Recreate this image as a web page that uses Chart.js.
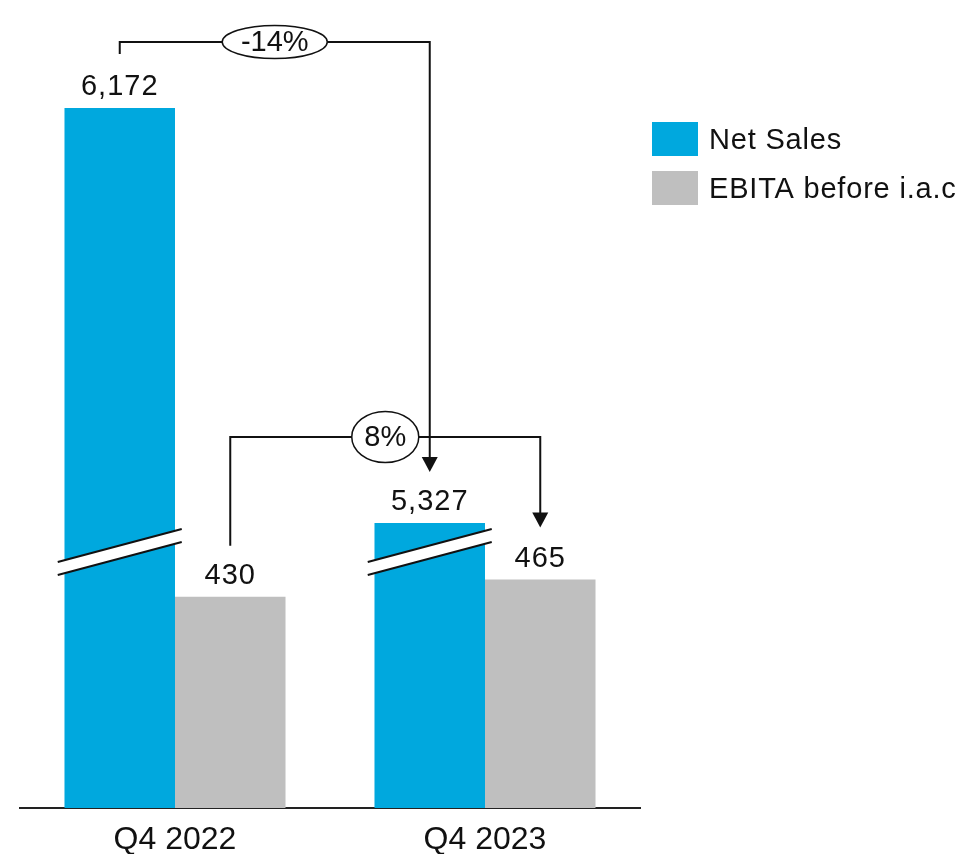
<!DOCTYPE html>
<html>
<head>
<meta charset="utf-8">
<script src="https://cdn.jsdelivr.net/npm/chart.js@4/dist/chart.umd.min.js"></script>
<style>
  html, body { margin: 0; padding: 0; background: #fff; }
</style>
</head>
<body>
<canvas id="chart" width="968" height="854"></canvas>
<script>
// quarterly figures
const quarters = ['Q4 2022', 'Q4 2023'];
const netSales = [6172, 5327];
const ebita = [430, 465];
const seriesNames = ['Net Sales', 'EBITA before i.a.c'];
const seriesColors = ['#00a8de', '#bfbfbf'];

const FONT = '"Liberation Sans", Arial, sans-serif';
const INK = '#111';

// both value axes share the same span so the bars use one px-per-unit;
// the sales axis starts high, hence the break marks on those bars
const SPAN = 1600;
const SALES_FLOOR = 4747;

const fmt = v => v.toLocaleString('en-US');
const pctChange = (a, b) => Math.round((b - a) / a * 100) + '%';

function arrowDown(ctx, x, tipY) {
  ctx.beginPath();
  ctx.moveTo(x - 8, tipY - 15);
  ctx.lineTo(x + 8, tipY - 15);
  ctx.lineTo(x, tipY);
  ctx.closePath();
  ctx.fill();
}

function bubble(ctx, x, y, rx, ry, text) {
  ctx.beginPath();
  ctx.ellipse(x, y, rx, ry, 0, 0, Math.PI * 2);
  ctx.fillStyle = '#fff';
  ctx.fill();
  ctx.lineWidth = 1.5;
  ctx.strokeStyle = INK;
  ctx.stroke();
  ctx.fillStyle = INK;
  ctx.font = '29px ' + FONT;
  ctx.textAlign = 'center';
  ctx.textBaseline = 'middle';
  ctx.fillText(text, x, y + 1);
}

// bracket from one bar label to another, with the change in a bubble
function bracket(ctx, x1, y1, x2, tipY, lineY, bub, text) {
  ctx.strokeStyle = INK;
  ctx.fillStyle = INK;
  ctx.lineWidth = 2;
  ctx.beginPath();
  ctx.moveTo(x1, y1);
  ctx.lineTo(x1, lineY);
  ctx.lineTo(x2, lineY);
  ctx.lineTo(x2, tipY - 12);
  ctx.stroke();
  arrowDown(ctx, x2, tipY);
  bubble(ctx, (x1 + x2) / 2, lineY, bub[0], bub[1], text);
}

const decorations = {
  id: 'decorations',
  afterDatasetsDraw(chart) {
    const ctx = chart.ctx;
    const sales = chart.getDatasetMeta(0).data;
    const ebit = chart.getDatasetMeta(1).data;

    // axis break marks over the sales bars
    ctx.save();
    sales.forEach(bar => {
      const x = bar.x;
      ctx.beginPath();
      ctx.moveTo(x - 62, 562);
      ctx.lineTo(x + 62, 529);
      ctx.lineTo(x + 62, 542);
      ctx.lineTo(x - 62, 575);
      ctx.closePath();
      ctx.fillStyle = '#fff';
      ctx.fill();
      ctx.strokeStyle = INK;
      ctx.lineWidth = 2;
      ctx.beginPath();
      ctx.moveTo(x - 62, 562);
      ctx.lineTo(x + 62, 529);
      ctx.moveTo(x - 62, 575);
      ctx.lineTo(x + 62, 542);
      ctx.stroke();
    });

    // value labels
    ctx.font = '29px ' + FONT;
    ctx.letterSpacing = '1px';
    ctx.fillStyle = INK;
    ctx.textAlign = 'center';
    ctx.textBaseline = 'alphabetic';
    const base = [];
    chart.data.datasets.forEach((ds, d) => {
      base[d] = [];
      chart.getDatasetMeta(d).data.forEach((bar, i) => {
        const y = bar.y - 13;
        base[d][i] = y;
        ctx.fillText(fmt(ds.data[i]), bar.x, y);
      });
    });
    ctx.letterSpacing = '0px';

    bracket(ctx, sales[0].x, base[0][0] - 41, sales[1].x, base[0][1] - 38, 42,
      [52.5, 16.5], pctChange(netSales[0], netSales[1]));
    bracket(ctx, ebit[0].x, base[1][0] - 38, ebit[1].x, base[1][1] - 39, 437,
      [33.5, 25.5], pctChange(ebita[0], ebita[1]));

    // category labels under the baseline
    const xScale = chart.scales.x;
    ctx.font = '32px ' + FONT;
    ctx.textBaseline = 'middle';
    quarters.forEach((q, i) => ctx.fillText(q, xScale.getPixelForTick(i), 840));
    ctx.restore();
  },
  afterDraw(chart) {
    // legend to the right of the plot
    const ctx = chart.ctx;
    ctx.save();
    ctx.font = '29px ' + FONT;
    ctx.letterSpacing = '0.8px';
    ctx.textAlign = 'left';
    ctx.textBaseline = 'middle';
    chart.data.datasets.forEach((ds, i) => {
      const top = 122 + i * 49;
      ctx.fillStyle = ds.backgroundColor;
      ctx.fillRect(652, top, 46, 34);
      ctx.fillStyle = INK;
      ctx.fillText(ds.label, 709, top + 19);
    });
    ctx.restore();
  }
};

new Chart(document.getElementById('chart'), {
  type: 'bar',
  data: {
    labels: quarters,
    datasets: [
      { label: seriesNames[0], data: netSales, backgroundColor: seriesColors[0], yAxisID: 'ySales' },
      { label: seriesNames[1], data: ebita, backgroundColor: seriesColors[1], yAxisID: 'y' }
    ]
  },
  options: {
    responsive: false,
    animation: false,
    categoryPercentage: 0.713,
    barPercentage: 1,
    layout: { padding: { left: 20, right: 328, top: 22, bottom: 46 } },
    plugins: { legend: { display: false }, tooltip: { enabled: false } },
    scales: {
      x: {
        grid: { display: true, drawOnChartArea: false, drawTicks: false },
        border: { display: true, color: '#222', width: 2 },
        ticks: { display: false }
      },
      y: { display: false, min: 0, max: SPAN },
      ySales: { display: false, min: SALES_FLOOR, max: SALES_FLOOR + SPAN }
    }
  },
  plugins: [decorations]
});
</script>
</body>
</html>
